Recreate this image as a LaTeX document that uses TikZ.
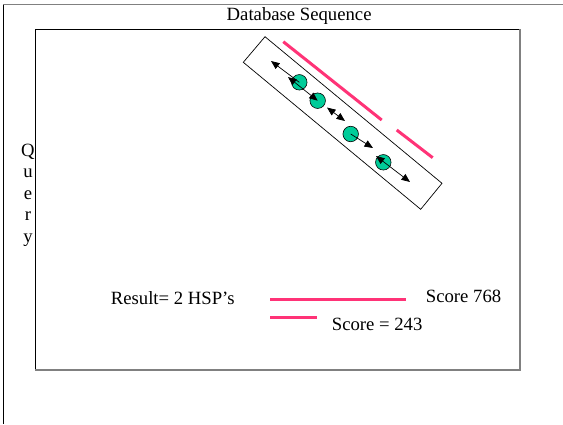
\documentclass[tikz,border=0pt]{standalone}
\usepackage{fontspec}
\setmainfont{Liberation Serif}
\usetikzlibrary{arrows.meta}
\definecolor{hsppink}{HTML}{FF3377}
\definecolor{dotteal}{HTML}{00CC99}
\definecolor{shadowgray}{HTML}{808080}
\tikzset{
  txt/.style={anchor=base west, inner sep=0pt, font=\fontsize{18.7}{22}\selectfont},
  qletter/.style={anchor=base, inner sep=0pt, font=\fontsize{18.7}{22}\selectfont},
  hsp/.style={draw=hsppink, line width=3pt},
  dot/.style={circle, draw=black, fill=dotteal, line width=0.6pt, minimum size=15.5pt, inner sep=0pt},
  arr/.style={line width=0.7pt, -{Triangle[length=8.5pt,width=7pt]}},
  darr/.style={line width=0.7pt, {Triangle[length=8.5pt,width=7pt]}-{Triangle[length=8.5pt,width=7pt]}},
}
\begin{document}
\begin{tikzpicture}[x=1pt,y=-1pt]
\useasboundingbox (0,0) rectangle (563,424);
% outer partial frame
\draw[shadowgray, line width=1.2pt] (3.3,4.5) -- (563,4.5);
\draw[black, line width=1pt] (3.3,4.5) -- (3.3,424);
% inner frame
\draw[black, line width=0.8pt] (35,370) -- (35,29.3) -- (520,29.3);
\draw[shadowgray, line width=1.5pt] (520,29.3) -- (520,370) -- (35,370);
% title and labels
\node[txt] (title) at (226.5,20) {Database Sequence};
\node[qletter] (q1) at (28,156) {Q};
\node[qletter] (q2) at (28,177.5) {u};
\node[qletter] (q3) at (28,199) {e};
\node[qletter] (q4) at (28,220.5) {r};
\node[qletter] (q5) at (28,242) {y};
\node[txt] (result) at (110.7,304) {Result= 2 HSP’s};
\node[txt] (s768) at (425.7,302) {Score 768};
\node[txt] (s243) at (331.7,330) {Score = 243};
% legend lines
\coordinate (l1a) at (270,299.3);
\coordinate (l1b) at (406,299.3);
\coordinate (l2a) at (270,317.7);
\coordinate (l2b) at (316.7,317.7);
\draw[hsp] (l1a) -- (l1b);
\draw[hsp] (l2a) -- (l2b);
% rotated box
\coordinate (rt) at (265,36.7);
\coordinate (rr) at (442,183.3);
\coordinate (rb) at (420.7,209.3);
\coordinate (rl) at (243.3,62.3);
\draw[black, line width=0.7pt] (rt) -- (rr) -- (rb) -- (rl) -- cycle;
% diagonal HSP lines
\coordinate (d1a) at (283.3,41.7);
\coordinate (d1b) at (381.7,120);
\coordinate (d2a) at (396.7,130);
\coordinate (d2b) at (432.7,157.7);
\draw[hsp] (d1a) -- (d1b);
\draw[hsp] (d2a) -- (d2b);
% dots
\node[dot] (c1) at (299.3,82.3) {};
\node[dot] (c2) at (317.7,100.7) {};
\node[dot] (c3) at (350.7,134) {};
\node[dot] (c4) at (383.3,162.3) {};
% arrows
\coordinate (p1) at (271,61);
\coordinate (p2) at (288,77);
\coordinate (p3) at (327,107.5);
\coordinate (p4) at (345,121);
\coordinate (p5) at (373,148);
\coordinate (p6) at (376,156);
\coordinate (p7) at (410,182);
\draw[arr] (c1.center) -- (p1);
\draw[darr] (p2) -- (c2.center);
\draw[darr] (p3) -- (p4);
\draw[arr] (c3.center) -- (p5);
\draw[darr] (p6) -- (p7);
\end{tikzpicture}
\end{document}
